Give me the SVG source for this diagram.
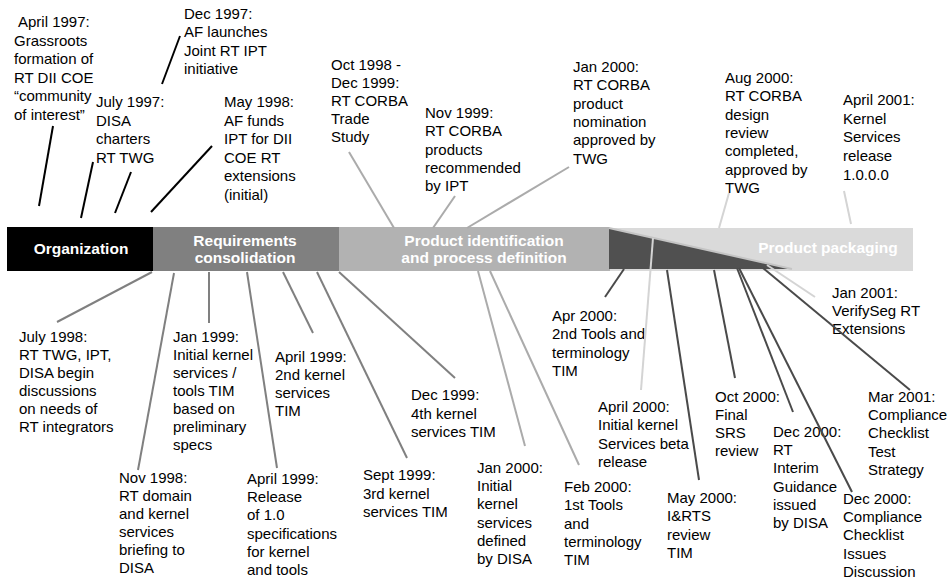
<svg xmlns="http://www.w3.org/2000/svg" width="947" height="579" viewBox="0 0 947 579">
<style>
text{font-family:"Liberation Sans",Arial,sans-serif;font-size:15px;fill:#000}
.ph{font-weight:bold;font-size:15.5px;fill:#fff;text-anchor:middle}
.k{stroke:#000;stroke-width:2;fill:none}
.g{stroke:#808080;stroke-width:2;fill:none}
.lg{stroke:#ababab;stroke-width:2;fill:none}
.vl{stroke:#d4d4d4;stroke-width:2;fill:none}
.dk{stroke:#4a4a4a;stroke-width:2;fill:none}
</style>
<rect width="947" height="579" fill="#fff"/>
<g id="band">
<g id="phase-organization"><rect x="7" y="227" width="146" height="44" fill="#000"/><text class="ph" x="81" y="254">Organization</text></g>
<g id="phase-requirements"><rect x="153" y="227" width="186" height="44" fill="#808080"/><text class="ph" x="245" y="246">Requirements</text><text class="ph" x="245" y="263">consolidation</text></g>
<g id="phase-product-id"><rect x="339" y="227" width="271" height="44" fill="#b2b2b2"/><text class="ph" x="484" y="246">Product identification</text><text class="ph" x="484" y="263">and process definition</text></g>
<g id="phase-packaging"><rect x="610" y="228" width="303" height="43" fill="#dadada"/><polygon points="609,228 792,269 609,269" fill="#505050"/><line x1="609" y1="228" x2="792" y2="269" stroke="#c4c4c4" stroke-width="2"/><text class="ph" x="828" y="253">Product packaging</text></g>
</g>
<g id="n-apr1997"><text x="14" y="27"><tspan x="18">April 1997:</tspan><tspan x="14" dy="18.6">Grassroots</tspan><tspan x="14" dy="18.6">formation of</tspan><tspan x="14" dy="18.6">RT DII COE</tspan><tspan x="14" dy="18.6">“community</tspan><tspan x="14" dy="18.6">of interest”</tspan></text></g>
<g id="n-dec1997"><text y="19"><tspan x="184">Dec 1997:</tspan><tspan x="184" dy="18.4">AF launches</tspan><tspan x="184" dy="18.4">Joint RT IPT</tspan><tspan x="184" dy="18.4">initiative</tspan></text></g>
<g id="n-jul1997"><text y="107"><tspan x="96">July 1997:</tspan><tspan x="96" dy="18.5">DISA</tspan><tspan x="96" dy="18.5">charters</tspan><tspan x="96" dy="18.5">RT TWG</tspan></text></g>
<g id="n-may1998"><text y="107"><tspan x="224">May 1998:</tspan><tspan x="224" dy="18.5">AF funds</tspan><tspan x="224" dy="18.5">IPT for DII</tspan><tspan x="224" dy="18.5">COE RT</tspan><tspan x="224" dy="18.5">extensions</tspan><tspan x="224" dy="18.5">(initial)</tspan></text></g>
<g id="n-oct1998"><text y="70"><tspan x="331">Oct 1998 -</tspan><tspan x="331" dy="18">Dec 1999:</tspan><tspan x="331" dy="18">RT CORBA</tspan><tspan x="331" dy="18">Trade</tspan><tspan x="331" dy="18">Study</tspan></text></g>
<g id="n-nov1999"><text y="118"><tspan x="425">Nov 1999:</tspan><tspan x="425" dy="18.3">RT CORBA</tspan><tspan x="425" dy="18.3">products</tspan><tspan x="425" dy="18.3">recommended</tspan><tspan x="425" dy="18.3">by IPT</tspan></text></g>
<g id="n-jan2000-top"><text y="72"><tspan x="573">Jan 2000:</tspan><tspan x="573" dy="18.3">RT CORBA</tspan><tspan x="573" dy="18.3">product</tspan><tspan x="573" dy="18.3">nomination</tspan><tspan x="573" dy="18.3">approved by</tspan><tspan x="573" dy="18.3">TWG</tspan></text></g>
<g id="n-aug2000"><text y="83"><tspan x="725">Aug 2000:</tspan><tspan x="725" dy="18.3">RT CORBA</tspan><tspan x="725" dy="18.3">design</tspan><tspan x="725" dy="18.3">review</tspan><tspan x="725" dy="18.3">completed,</tspan><tspan x="725" dy="18.3">approved by</tspan><tspan x="725" dy="18.3">TWG</tspan></text></g>
<g id="n-apr2001"><text y="105"><tspan x="843">April 2001:</tspan><tspan x="843" dy="18.7">Kernel</tspan><tspan x="843" dy="18.7">Services</tspan><tspan x="843" dy="18.7">release</tspan><tspan x="843" dy="18.7">1.0.0.0</tspan></text></g>
<g id="n-jul1998"><text y="342"><tspan x="19">July 1998:</tspan><tspan x="19" dy="18">RT TWG, IPT,</tspan><tspan x="19" dy="18">DISA begin</tspan><tspan x="19" dy="18">discussions</tspan><tspan x="19" dy="18">on needs of</tspan><tspan x="19" dy="18">RT integrators</tspan></text></g>
<g id="n-nov1998"><text y="483"><tspan x="119">Nov 1998:</tspan><tspan x="119" dy="18">RT domain</tspan><tspan x="119" dy="18">and kernel</tspan><tspan x="119" dy="18">services</tspan><tspan x="119" dy="18">briefing to</tspan><tspan x="119" dy="18">DISA</tspan></text></g>
<g id="n-jan1999"><text y="342"><tspan x="173">Jan 1999:</tspan><tspan x="173" dy="18">Initial kernel</tspan><tspan x="173" dy="18">services /</tspan><tspan x="173" dy="18">tools TIM</tspan><tspan x="173" dy="18">based on</tspan><tspan x="173" dy="18">preliminary</tspan><tspan x="173" dy="18">specs</tspan></text></g>
<g id="n-apr1999-release"><text y="484"><tspan x="247">April 1999:</tspan><tspan x="247" dy="18.2">Release</tspan><tspan x="247" dy="18.2">of 1.0</tspan><tspan x="247" dy="18.2">specifications</tspan><tspan x="247" dy="18.2">for kernel</tspan><tspan x="247" dy="18.2">and tools</tspan></text></g>
<g id="n-apr1999-tim"><text y="362"><tspan x="275">April 1999:</tspan><tspan x="275" dy="18">2nd kernel</tspan><tspan x="275" dy="18">services</tspan><tspan x="275" dy="18">TIM</tspan></text></g>
<g id="n-sep1999"><text y="480"><tspan x="363">Sept 1999:</tspan><tspan x="363" dy="18.5">3rd kernel</tspan><tspan x="363" dy="18.5">services TIM</tspan></text></g>
<g id="n-dec1999"><text y="400"><tspan x="411">Dec 1999:</tspan><tspan x="411" dy="18.5">4th kernel</tspan><tspan x="411" dy="18.5">services TIM</tspan></text></g>
<g id="n-jan2000-bot"><text y="473"><tspan x="477">Jan 2000:</tspan><tspan x="477" dy="18.2">Initial</tspan><tspan x="477" dy="18.2">kernel</tspan><tspan x="477" dy="18.2">services</tspan><tspan x="477" dy="18.2">defined</tspan><tspan x="477" dy="18.2">by DISA</tspan></text></g>
<g id="n-feb2000"><text y="492"><tspan x="564">Feb 2000:</tspan><tspan x="564" dy="18.3">1st Tools</tspan><tspan x="564" dy="18.3">and</tspan><tspan x="564" dy="18.3">terminology</tspan><tspan x="564" dy="18.3">TIM</tspan></text></g>
<g id="n-apr2000-tools"><text y="321"><tspan x="552">Apr 2000:</tspan><tspan x="552" dy="18.3">2nd Tools and</tspan><tspan x="552" dy="18.3">terminology</tspan><tspan x="552" dy="18.3">TIM</tspan></text></g>
<g id="n-apr2000-beta"><text y="412"><tspan x="598">April 2000:</tspan><tspan x="598" dy="18.3">Initial kernel</tspan><tspan x="598" dy="18.3">Services beta</tspan><tspan x="598" dy="18.3">release</tspan></text></g>
<g id="n-may2000"><text y="503"><tspan x="667">May 2000:</tspan><tspan x="667" dy="18.3">I&amp;RTS</tspan><tspan x="667" dy="18.3">review</tspan><tspan x="667" dy="18.3">TIM</tspan></text></g>
<g id="n-oct2000"><text y="402"><tspan x="715">Oct 2000:</tspan><tspan x="715" dy="18">Final</tspan><tspan x="715" dy="18">SRS</tspan><tspan x="715" dy="18">review</tspan></text></g>
<g id="n-dec2000-rt"><text y="437"><tspan x="773">Dec 2000:</tspan><tspan x="773" dy="18.2">RT</tspan><tspan x="773" dy="18.2">Interim</tspan><tspan x="773" dy="18.2">Guidance</tspan><tspan x="773" dy="18.2">issued</tspan><tspan x="773" dy="18.2">by DISA</tspan></text></g>
<g id="n-dec2000-cc"><text y="504"><tspan x="843">Dec 2000:</tspan><tspan x="843" dy="18.2">Compliance</tspan><tspan x="843" dy="18.2">Checklist</tspan><tspan x="843" dy="18.2">Issues</tspan><tspan x="843" dy="18.2">Discussion</tspan></text></g>
<g id="n-mar2001"><text y="402"><tspan x="868">Mar 2001:</tspan><tspan x="868" dy="18.2">Compliance</tspan><tspan x="868" dy="18.2">Checklist</tspan><tspan x="868" dy="18.2">Test</tspan><tspan x="868" dy="18.2">Strategy</tspan></text></g>
<g id="n-jan2001"><text y="298"><tspan x="832">Jan 2001:</tspan><tspan x="832" dy="18">VerifySeg RT</tspan><tspan x="832" dy="18">Extensions</tspan></text></g>
<g id="connectors">
<line class="k" x1="53" y1="126" x2="39" y2="206"/>
<line class="k" x1="180" y1="36" x2="162" y2="84"/>
<line class="k" x1="93" y1="162" x2="81" y2="218"/>
<line class="k" x1="131" y1="172" x2="115" y2="213"/>
<line class="k" x1="212" y1="146" x2="151" y2="212"/>
<line class="lg" x1="349" y1="152" x2="394" y2="228"/>
<line class="lg" x1="455" y1="196" x2="433" y2="228"/>
<line class="lg" x1="569" y1="167" x2="467" y2="228"/>
<line class="vl" x1="729" y1="193" x2="719" y2="228"/>
<line class="vl" x1="844" y1="191" x2="851" y2="224"/>
<line class="g" x1="152" y1="272" x2="57" y2="322"/>
<line class="g" x1="174" y1="273" x2="138" y2="470"/>
<line class="g" x1="209" y1="272" x2="209" y2="323"/>
<line class="g" x1="247" y1="272" x2="277" y2="468"/>
<line class="g" x1="283" y1="272" x2="313" y2="333"/>
<line class="g" x1="317" y1="272" x2="407" y2="458"/>
<line class="g" x1="339" y1="272" x2="455" y2="378"/>
<line class="lg" x1="478" y1="271" x2="525" y2="446"/>
<line class="lg" x1="490" y1="271" x2="579" y2="465"/>
<line class="dk" x1="624" y1="269" x2="605" y2="297"/>
<line class="vl" x1="653" y1="238" x2="641" y2="390"/>
<line class="dk" x1="667" y1="270" x2="699" y2="480"/>
<line class="dk" x1="714" y1="270" x2="735" y2="378"/>
<line class="dk" x1="737" y1="268" x2="793" y2="412"/>
<line class="dk" x1="739" y1="268" x2="852" y2="492"/>
<line class="dk" x1="763" y1="268" x2="910" y2="390"/>
<line class="vl" x1="767" y1="265" x2="815" y2="297"/>
</g>
</svg>
